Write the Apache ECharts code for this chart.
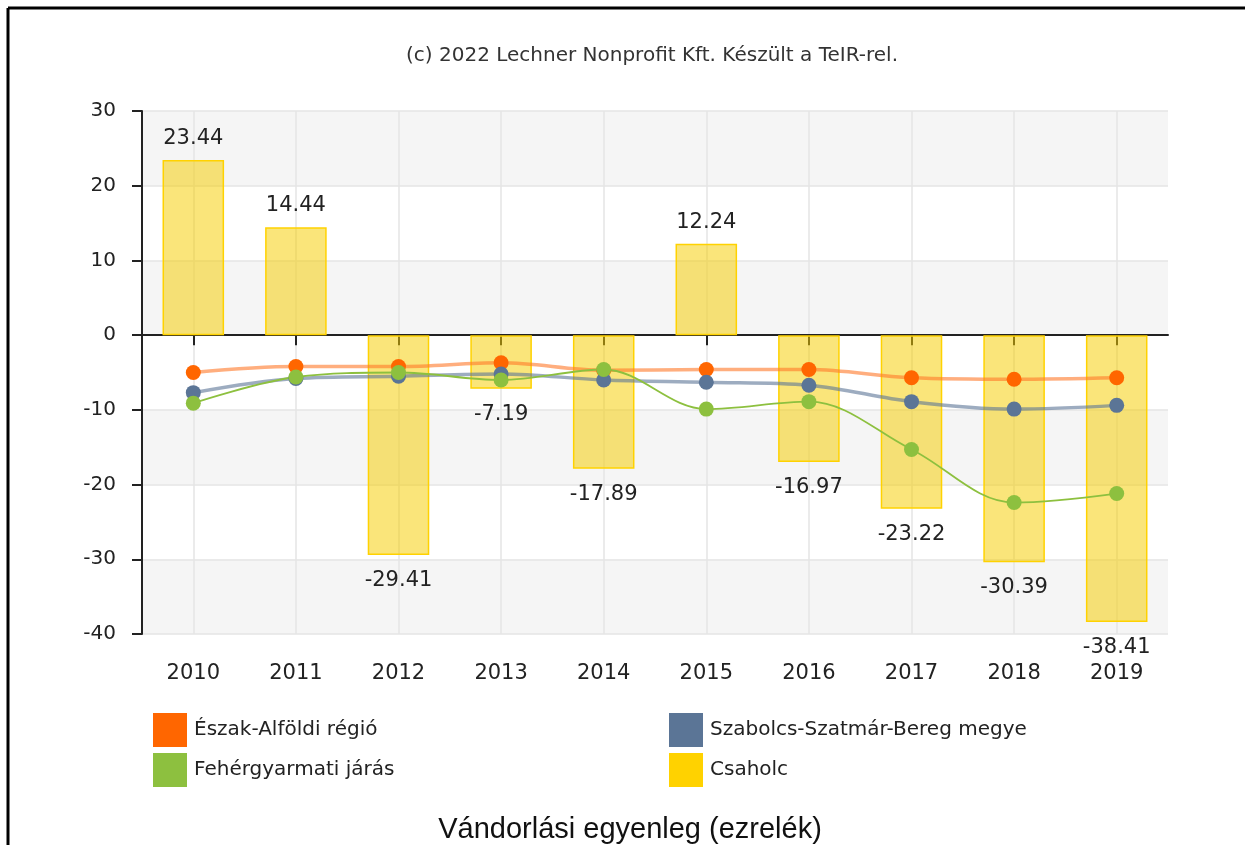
<!DOCTYPE html>
<html>
<head>
<meta charset="utf-8">
<script src="https://cdn.jsdelivr.net/npm/echarts@6/dist/echarts.min.js"></script>
<style>
html,body{margin:0;padding:0;background:#fff;}
#chart{width:1245px;height:845px;}
</style>
</head>
<body>
<div id="chart"></div>
<script>
const years = ['2010','2011','2012','2013','2014','2015','2016','2017','2018','2019'];
const yTicks = [-40, -30, -20, -10, 0, 10, 20, 30];
const seriesNames = ['Észak-Alföldi régió', 'Szabolcs-Szatmár-Bereg megye', 'Fehérgyarmati járás', 'Csaholc'];
const eszakAlfoldi = [-5.0, -4.2, -4.2, -3.7, -4.7, -4.6, -4.6, -5.7, -5.9, -5.7];
const szabolcs = [-7.7, -5.8, -5.5, -5.2, -6.0, -6.3, -6.7, -8.9, -9.9, -9.4];
const fehergyarmati = [-9.1, -5.6, -5.0, -6.0, -4.6, -9.9, -8.9, -15.3, -22.4, -21.2];
const csaholc = [23.44, 14.44, -29.41, -7.19, -17.89, 12.24, -16.97, -23.22, -30.39, -38.41];
const copyright = '(c) 2022 Lechner Nonprofit Kft. Készült a TeIR-rel.';
const chartTitle = 'Vándorlási egyenleg (ezrelék)';

const FONT = 'DejaVu Sans';
const chart = echarts.init(document.getElementById('chart'), null, {renderer: 'canvas'});

function lineSeries(name, data, color, lineColor, width) {
  return {
    name: name, type: 'line', data: data, smooth: 0.35,
    symbol: 'circle', symbolSize: 15,
    itemStyle: {color: color},
    lineStyle: {color: lineColor, width: width},
    z: 3
  };
}

const legendText = {fontFamily: FONT, fontSize: 20, color: '#222', padding: [0, 0, 0, 2]};

const option = {
  animation: false,
  backgroundColor: '#fff',
  title: [
    {text: copyright, left: 652, top: 46, textAlign: 'center', padding: 0,
     textStyle: {fontFamily: FONT, fontSize: 20, fontWeight: 'normal', color: '#333'}},
    {text: chartTitle, left: 630, top: 815, textAlign: 'center', padding: 0,
     textStyle: {fontFamily: 'Liberation Sans', fontSize: 29, fontWeight: 'normal', color: '#111'}}
  ],
  legend: [
    {data: [seriesNames[0], seriesNames[2]], orient: 'vertical', left: 153, top: 713, padding: 0,
     itemWidth: 34, itemHeight: 34, itemGap: 6, icon: 'rect', textStyle: legendText},
    {data: [seriesNames[1], {name: seriesNames[3], itemStyle: {color: '#ffd200', borderWidth: 0}}],
     orient: 'vertical', left: 669, top: 713, padding: 0,
     itemWidth: 34, itemHeight: 34, itemGap: 6, icon: 'rect', textStyle: legendText}
  ],
  grid: {left: 142, right: 77, top: 111, bottom: 211},
  xAxis: {
    type: 'category', data: years, boundaryGap: true,
    axisLine: {show: true, lineStyle: {color: '#222', width: 2}},
    axisTick: {show: true, alignWithLabel: true, length: 10, lineStyle: {color: '#222', width: 2}},
    axisLabel: {fontFamily: FONT, fontSize: 21, color: '#222', margin: 29},
    splitLine: {show: true, alignWithLabel: true, lineStyle: {color: '#e4e4e4', width: 1.5}}
  },
  yAxis: {
    type: 'value', min: -40, max: 30, interval: 10,
    axisLine: {show: true, lineStyle: {color: '#222', width: 2}},
    axisTick: {show: true, length: 10, lineStyle: {color: '#222', width: 2}},
    axisLabel: {fontFamily: FONT, fontSize: 20, color: '#222', margin: 26,
      formatter: function (v) { return yTicks.indexOf(v) >= 0 ? String(v) : ''; }},
    splitLine: {show: true, lineStyle: {color: '#e4e4e4', width: 1.5}},
    splitArea: {show: true, areaStyle: {color: ['#f5f5f5', '#ffffff']}}
  },
  series: [
    {
      name: seriesNames[3], type: 'bar', barWidth: '60%',
      data: csaholc.map(function (v) {
        return {value: v, label: {position: v < 0 ? 'bottom' : 'top', distance: v < 0 ? 15 : 11}};
      }),
      itemStyle: {color: 'rgba(246,206,0,0.52)', borderColor: '#ffd200', borderWidth: 1.5},
      label: {show: true, fontFamily: FONT, fontSize: 21, color: '#222',
        formatter: function (p) { return p.value.toFixed(2); }},
      z: 2
    },
    lineSeries(seriesNames[0], eszakAlfoldi, '#ff6600', 'rgba(255,120,40,0.6)', 3.5),
    lineSeries(seriesNames[1], szabolcs, '#5b7596', 'rgba(91,117,150,0.6)', 3.5),
    lineSeries(seriesNames[2], fehergyarmati, '#8dc03f', '#8dc03f', 1.8)
  ],
  graphic: [
    {type: 'line', shape: {x1: 8, y1: 8, x2: 1245, y2: 8}, style: {stroke: '#000', lineWidth: 3}, silent: true},
    {type: 'line', shape: {x1: 8, y1: 8, x2: 8, y2: 845}, style: {stroke: '#000', lineWidth: 3}, silent: true}
  ]
};
chart.setOption(option);
</script>
</body>
</html>
